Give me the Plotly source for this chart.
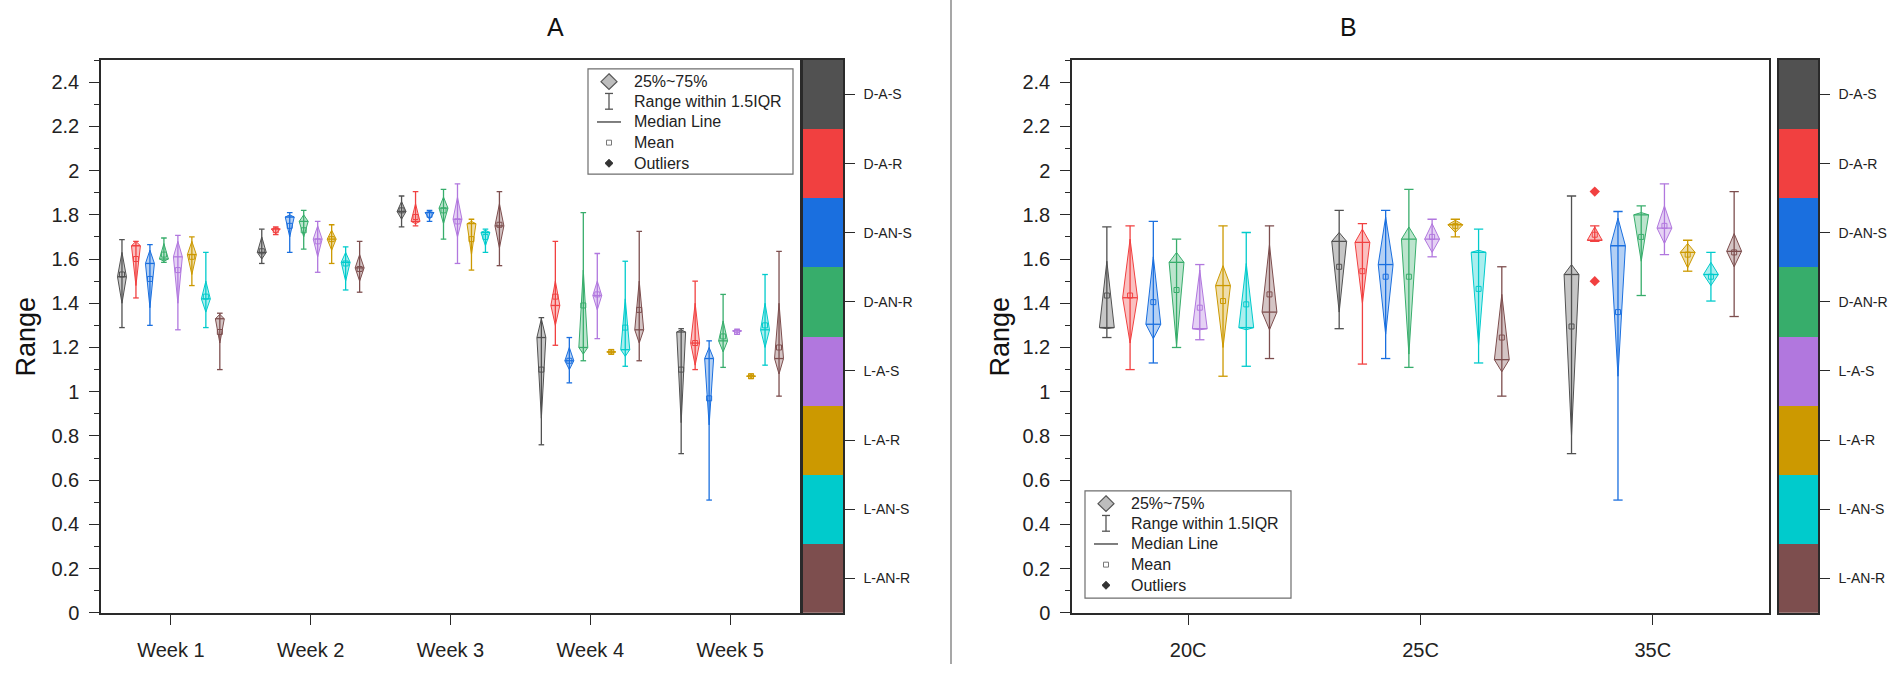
import plotly.graph_objects as go

W, H = 1901, 675
FONT = "Arial, Liberation Sans, sans-serif"

series = ["D-A-S", "D-A-R", "D-AN-S", "D-AN-R", "L-A-S", "L-A-R", "L-AN-S", "L-AN-R"]
colors = ["#515151", "#F14040", "#1A6FDF", "#37AD6B", "#B177DE", "#CC9900", "#00CBCC", "#7D4E4E"]

weeks = ["Week 1", "Week 2", "Week 3", "Week 4", "Week 5"]
temps = ["20C", "25C", "35C"]

# ---- Panel A: per series (rows) x week (cols)
A_low = [[1.29, 1.58, 1.745, 0.76, 0.72], [1.424, 1.71, 1.75, 1.21, 1.10], [1.30, 1.63, 1.77, 1.04, 0.51],
         [1.585, 1.645, 1.69, 1.14, 1.11], [1.28, 1.54, 1.58, 1.24, 1.26], [1.48, 1.58, 1.55, 1.17, 1.06],
         [1.29, 1.46, 1.63, 1.115, 1.12], [1.10, 1.45, 1.57, 1.14, 0.98]]
A_q1 = [[1.40, 1.60, 1.78, 0.88, 0.86], [1.48, 1.715, 1.76, 1.30, 1.12], [1.38, 1.70, 1.78, 1.10, 0.85],
        [1.59, 1.70, 1.76, 1.17, 1.18], [1.40, 1.61, 1.70, 1.37, 1.265], [1.53, 1.64, 1.62, 1.175, 1.065],
        [1.36, 1.50, 1.66, 1.16, 1.20], [1.22, 1.50, 1.65, 1.22, 1.08]]
A_med = [[1.52, 1.63, 1.815, 1.245, 1.27], [1.66, 1.735, 1.77, 1.39, 1.22], [1.58, 1.79, 1.81, 1.14, 1.15],
         [1.60, 1.77, 1.83, 1.20, 1.23], [1.61, 1.69, 1.78, 1.435, 1.275], [1.62, 1.69, 1.76, 1.18, 1.07],
         [1.42, 1.585, 1.72, 1.19, 1.28], [1.33, 1.56, 1.75, 1.28, 1.15]]
A_q3 = [[1.63, 1.70, 1.86, 1.33, 1.28], [1.68, 1.74, 1.85, 1.50, 1.40], [1.64, 1.80, 1.815, 1.20, 1.20],
        [1.67, 1.80, 1.88, 1.55, 1.32], [1.68, 1.75, 1.88, 1.50, 1.28], [1.68, 1.73, 1.77, 1.185, 1.075],
        [1.50, 1.63, 1.73, 1.42, 1.40], [1.35, 1.62, 1.85, 1.50, 1.40]]
A_high = [[1.688, 1.735, 1.885, 1.335, 1.285], [1.68, 1.745, 1.905, 1.68, 1.50], [1.665, 1.81, 1.82, 1.245, 1.23],
          [1.695, 1.82, 1.915, 1.81, 1.44], [1.707, 1.77, 1.94, 1.625, 1.283], [1.70, 1.755, 1.78, 1.19, 1.08],
          [1.63, 1.655, 1.735, 1.59, 1.53], [1.355, 1.68, 1.905, 1.725, 1.635]]
A_mean = [[1.53, 1.635, 1.82, 1.10, 1.10], [1.60, 1.73, 1.79, 1.43, 1.22], [1.51, 1.75, 1.80, 1.14, 0.97],
          [1.62, 1.73, 1.82, 1.39, 1.25], [1.55, 1.68, 1.77, 1.44, 1.27], [1.61, 1.69, 1.69, 1.18, 1.07],
          [1.43, 1.58, 1.70, 1.29, 1.30], [1.27, 1.555, 1.755, 1.37, 1.20]]

# ---- Panel B: per series x temperature
B_low = [[1.245, 1.285, 0.72], [1.10, 1.125, 1.68], [1.13, 1.15, 0.51], [1.20, 1.11, 1.435],
         [1.235, 1.61, 1.62], [1.07, 1.70, 1.545], [1.115, 1.13, 1.41], [1.15, 0.98, 1.34]]
B_q1 = [[1.285, 1.36, 0.80], [1.22, 1.40, 1.68], [1.24, 1.26, 1.07], [1.21, 1.17, 1.59],
        [1.28, 1.63, 1.67], [1.20, 1.72, 1.56], [1.28, 1.21, 1.48], [1.28, 1.09, 1.565]]
B_med = [[1.29, 1.68, 1.53], [1.425, 1.675, 1.685], [1.305, 1.575, 1.66], [1.585, 1.69, 1.80],
         [1.285, 1.69, 1.74], [1.48, 1.755, 1.63], [1.29, 1.63, 1.53], [1.36, 1.145, 1.635]]
B_q3 = [[1.59, 1.72, 1.575], [1.69, 1.735, 1.745], [1.61, 1.79, 1.785], [1.63, 1.745, 1.81],
        [1.55, 1.76, 1.84], [1.57, 1.775, 1.67], [1.58, 1.64, 1.585], [1.665, 1.44, 1.715]]
B_high = [[1.745, 1.82, 1.885], [1.75, 1.76, 1.75], [1.77, 1.82, 1.815], [1.69, 1.915, 1.84],
          [1.575, 1.78, 1.94], [1.75, 1.78, 1.685], [1.72, 1.735, 1.63], [1.75, 1.565, 1.905]]
B_mean = [[1.435, 1.565, 1.295], [1.435, 1.545, 1.71], [1.405, 1.52, 1.36], [1.46, 1.52, 1.70],
          [1.38, 1.70, 1.75], [1.41, 1.75, 1.62], [1.395, 1.465, 1.52], [1.44, 1.245, 1.63]]
B_outlier_series = [1, 1]
B_outlier_cat = [2, 2]
B_outlier_val = [1.905, 1.50]

OFFSET = 0.1
HALFW = 0.032
CAPW = 0.02


def rgba(hexc, a):
    h = hexc.lstrip("#")
    return "rgba(%d,%d,%d,%.2f)" % (int(h[0:2], 16), int(h[2:4], 16), int(h[4:6], 16), a)


fig = go.Figure()


def add_panel(xa, ya, ncat, low, q1, med, q3, high, mean):
    for i, col in enumerate(colors):
        dx, dy, wx, wy, mx, my = [], [], [], [], [], []
        for c in range(ncat):
            xc = c + (i - 3.5) * OFFSET
            dx += [xc, xc - HALFW, xc, xc + HALFW, xc, None]
            dy += [q1[i][c], med[i][c], q3[i][c], med[i][c], q1[i][c], None]
            wx += [xc, xc, None, xc - CAPW, xc + CAPW, None, xc - CAPW, xc + CAPW, None,
                   xc - HALFW, xc + HALFW, None]
            wy += [low[i][c], high[i][c], None, low[i][c], low[i][c], None, high[i][c], high[i][c], None,
                   med[i][c], med[i][c], None]
            mx.append(xc)
            my.append(mean[i][c])
        fig.add_trace(go.Scatter(x=dx, y=dy, mode="lines", fill="toself", fillcolor=rgba(col, 0.33),
                                 line=dict(color=col, width=1), xaxis=xa, yaxis=ya,
                                 showlegend=False, hoverinfo="skip"))
        fig.add_trace(go.Scatter(x=wx, y=wy, mode="lines", line=dict(color=col, width=1.3),
                                 xaxis=xa, yaxis=ya, showlegend=False, hoverinfo="skip"))
        fig.add_trace(go.Scatter(x=mx, y=my, mode="markers",
                                 marker=dict(symbol="square-open", size=5, color=col, line=dict(width=1)),
                                 xaxis=xa, yaxis=ya, showlegend=False, hoverinfo="skip"))


add_panel("x", "y", len(weeks), A_low, A_q1, A_med, A_q3, A_high, A_mean)
add_panel("x2", "y2", len(temps), B_low, B_q1, B_med, B_q3, B_high, B_mean)

fig.add_trace(go.Scatter(x=[c + (s - 3.5) * OFFSET for s, c in zip(B_outlier_series, B_outlier_cat)],
                         y=B_outlier_val, mode="markers",
                         marker=dict(symbol="diamond", size=8, color=[colors[s] for s in B_outlier_series]),
                         xaxis="x2", yaxis="y2", showlegend=False, hoverinfo="skip"))

# colour key bars
cscale = [[k / 7, colors[k]] for k in range(8)]
for xa, ya in (("x3", "y3"), ("x4", "y4")):
    fig.add_trace(go.Heatmap(z=[[k] for k in range(8)], x=[0], y=list(range(8)), zmin=0, zmax=7,
                             colorscale=cscale, showscale=False, xaxis=xa, yaxis=ya, hoverinfo="skip"))


def dom_x(a, b):
    return [a / W, b / W]


YDOM = [1 - 623 / H, 1 - 61 / H]
LC = "#2a2a2a"
tickfont = dict(family=FONT, size=20, color="#222")

main_y = dict(domain=YDOM, range=[0, 2.5], dtick=0.2, tick0=0, ticks="outside", ticklen=10, tickwidth=1.3,
              tickcolor=LC, showline=True, linecolor=LC, linewidth=1.5, mirror=True, showgrid=False,
              zeroline=False, tickfont=tickfont, ticklabelstandoff=6,
              minor=dict(dtick=0.1, ticks="outside", ticklen=5, tickcolor=LC, tickwidth=1.2, showgrid=False))


def main_x(dom, labels):
    return dict(domain=dom, range=[-0.5, len(labels) - 0.5], tickvals=list(range(len(labels))),
                ticktext=labels, ticks="outside", ticklen=10, tickwidth=1.3, tickcolor=LC, showline=True,
                linecolor=LC, linewidth=1.5, mirror=True, showgrid=False, zeroline=False, tickfont=tickfont,
                ticklabelstandoff=8)


def key_axes(dom, anchor_x, anchor_y):
    xa = dict(domain=dom, range=[-0.5, 0.5], showticklabels=False, ticks="", showgrid=False, zeroline=False,
              showline=True, linecolor=LC, linewidth=1.5, mirror=True, anchor=anchor_y)
    ya = dict(domain=YDOM, range=[7.5, -0.5], tickvals=list(range(8)), ticktext=series, side="right",
              ticks="outside", ticklen=10, tickcolor=LC, tickwidth=1.2, showgrid=False, zeroline=False,
              showline=True, linecolor=LC, linewidth=1.5, mirror=True, anchor=anchor_x,
              tickfont=dict(family=FONT, size=14, color="#222"), ticklabelstandoff=6)
    return xa, ya


x3, y3 = key_axes(dom_x(803, 843), "x3", "y3")
x4, y4 = key_axes(dom_x(1779, 1818), "x4", "y4")

fig.update_layout(
    width=W, height=H, autosize=False, margin=dict(l=0, r=0, t=0, b=0, pad=0),
    paper_bgcolor="white", plot_bgcolor="white", font=dict(family=FONT, color="#222"),
    xaxis=dict(main_x(dom_x(101, 800), weeks), anchor="y"),
    yaxis=dict(main_y, anchor="x"),
    xaxis2=dict(main_x(dom_x(1072, 1769), temps), anchor="y2"),
    yaxis2=dict(main_y, anchor="x2"),
    xaxis3=x3, yaxis3=y3, xaxis4=x4, yaxis4=y4,
)


def px(x):
    return x / W


def py(y):
    return 1 - y / H


shapes = []
annos = []

# separator
shapes.append(dict(type="line", xref="paper", yref="paper", x0=px(951), x1=px(951), y0=0, y1=1,
                   line=dict(color="#8a8a8a", width=1.5)))

# panel titles and axis titles
for txt, x in (("A", 555), ("B", 1348)):
    annos.append(dict(text=txt, x=px(x), y=py(27), xref="paper", yref="paper", showarrow=False,
                      font=dict(family=FONT, size=25, color="#111"), xanchor="center", yanchor="middle"))
for x in (26, 1000):
    annos.append(dict(text="Range", x=px(x), y=py(342), xref="paper", yref="paper", showarrow=False,
                      textangle=-90, font=dict(family=FONT, size=27, color="#111"),
                      xanchor="center", yanchor="middle"))

legend_items = ["25%~75%", "Range within 1.5IQR", "Median Line", "Mean", "Outliers"]


def path(points):
    s = "M %f,%f" % (px(points[0][0]), py(points[0][1]))
    for p in points[1:]:
        s += " L %f,%f" % (px(p[0]), py(p[1]))
    return s + " Z"


def add_legend(bx0, by0, bx1, by1):
    shapes.append(dict(type="rect", xref="paper", yref="paper", x0=px(bx0), x1=px(bx1), y0=py(by1),
                       y1=py(by0), line=dict(color="#6e6e6e", width=1.2), fillcolor="white", layer="above"))
    rows = [by0 + 13, by0 + 33, by0 + 54, by0 + 75, by0 + 96]
    sx = bx0 + 21
    r = rows[0]
    shapes.append(dict(type="path", xref="paper", yref="paper",
                       path=path([(sx, r - 8), (sx + 8, r), (sx, r + 8), (sx - 8, r)]),
                       fillcolor="#bdbdbd", line=dict(color="#555", width=1.2), layer="above"))
    r = rows[1]
    for (x0, y0, x1, y1) in ((sx, r - 8, sx, r + 8), (sx - 4, r - 8, sx + 4, r - 8), (sx - 4, r + 8, sx + 4, r + 8)):
        shapes.append(dict(type="line", xref="paper", yref="paper", x0=px(x0), x1=px(x1), y0=py(y0), y1=py(y1),
                           line=dict(color="#555", width=1.3), layer="above"))
    r = rows[2]
    shapes.append(dict(type="line", xref="paper", yref="paper", x0=px(sx - 12), x1=px(sx + 12), y0=py(r),
                       y1=py(r), line=dict(color="#555", width=1.5), layer="above"))
    r = rows[3]
    shapes.append(dict(type="rect", xref="paper", yref="paper", x0=px(sx - 2.5), x1=px(sx + 2.5),
                       y0=py(r + 2.5), y1=py(r - 2.5), line=dict(color="#777", width=1), layer="above"))
    r = rows[4]
    shapes.append(dict(type="path", xref="paper", yref="paper",
                       path=path([(sx, r - 4), (sx + 4, r), (sx, r + 4), (sx - 4, r)]),
                       fillcolor="#333", line=dict(color="#333", width=1), layer="above"))
    for t, r in zip(legend_items, rows):
        annos.append(dict(text=t, x=px(bx0 + 44), y=py(r), xref="paper", yref="paper", showarrow=False,
                          xanchor="left", yanchor="middle", font=dict(family=FONT, size=16, color="#222")))


add_legend(588, 70, 793, 177)
add_legend(1085, 499, 1291, 608)

fig.update_layout(shapes=shapes, annotations=annos)

fig.write_html("out.html", config={"displayModeBar": False},
               post_script="document.body.style.margin='0';document.body.style.overflow='hidden';")
